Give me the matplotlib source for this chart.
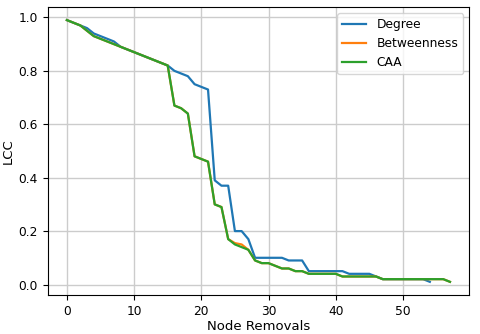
#!/usr/bin/env python
# LCC vs node removals for three attack strategies
import numpy as np
import matplotlib
matplotlib.use('Agg')
import matplotlib.pyplot as plt

degree = [0.99, 0.98, 0.97, 0.96, 0.94, 0.93, 0.92, 0.91, 0.89, 0.88,
          0.87, 0.86, 0.85, 0.84, 0.83, 0.82, 0.80, 0.79, 0.78, 0.75,
          0.74, 0.73, 0.39, 0.37, 0.37, 0.20, 0.20, 0.17, 0.10, 0.10,
          0.10, 0.10, 0.10, 0.09, 0.09, 0.09, 0.05, 0.05, 0.05, 0.05,
          0.05, 0.05, 0.04, 0.04, 0.04, 0.04, 0.03, 0.02, 0.02, 0.02,
          0.02, 0.02, 0.02, 0.02, 0.01]

caa = [0.99, 0.98, 0.97, 0.95, 0.93, 0.92, 0.91, 0.90, 0.89, 0.88,
       0.87, 0.86, 0.85, 0.84, 0.83, 0.82, 0.67, 0.66, 0.64, 0.48,
       0.47, 0.46, 0.30, 0.29, 0.17, 0.15, 0.14, 0.13, 0.09, 0.08,
       0.08, 0.07, 0.06, 0.06, 0.05, 0.05, 0.04, 0.04, 0.04, 0.04,
       0.04, 0.03, 0.03, 0.03, 0.03, 0.03, 0.03, 0.02, 0.02, 0.02,
       0.02, 0.02, 0.02, 0.02, 0.02, 0.02, 0.02, 0.01]

betweenness = list(caa)
betweenness[25] = 0.155
betweenness[26] = 0.15

fig = plt.figure(figsize=(4.8, 3.34), dpi=100)
ax = fig.add_axes([0.0994, 0.117, 0.878, 0.862])

ax.plot(np.arange(len(degree)), degree, label='Degree', lw=1.6)
ax.plot(np.arange(len(betweenness)), betweenness, label='Betweenness', lw=1.6)
ax.plot(np.arange(len(caa)), caa, label='CAA', lw=1.6)

ax.set_xlabel('Node Removals', fontsize=9.5, labelpad=2)
ax.set_ylabel('LCC', fontsize=9.5, labelpad=3)
ax.tick_params(labelsize=8.8)
ax.grid(True, color='#cccccc', lw=1)
ax.legend(fontsize=8.8, loc='upper right')

fig.savefig('out.png', dpi=100)
